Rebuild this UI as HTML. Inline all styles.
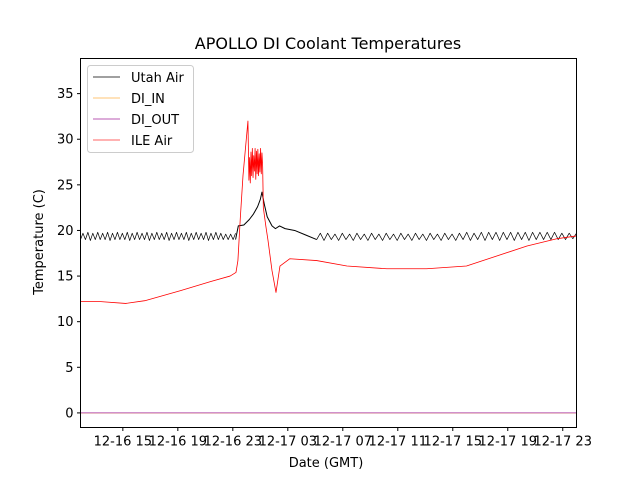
<!DOCTYPE html>
<html><head><meta charset="utf-8"><style>
body{margin:0;background:#fff}
svg text{font-family:"DejaVu Sans","Liberation Sans",sans-serif;fill:#000}
</style></head><body>
<svg id="chart" width="640" height="480" viewBox="0 0 640 480" xmlns="http://www.w3.org/2000/svg">
<rect width="640" height="480" fill="#fff"/>
<text x="328" y="49" font-size="16" text-anchor="middle">APOLLO DI Coolant Temperatures</text>
<text x="0" y="0" font-size="13" text-anchor="middle" transform="translate(43,242) rotate(-90)">Temperature (C)</text>
<text x="326" y="467" font-size="13" text-anchor="middle">Date (GMT)</text>
<g id="plot"></g>
<rect x="80.5" y="58.5" width="496" height="369" fill="none" stroke="#000" stroke-width="1"/>
<g id="legend">
<rect x="87.5" y="65.5" width="106" height="87" rx="3" fill="#fff" fill-opacity="0.8" stroke="#ccc"/>
</g>
</svg>
<script>
const yTicks=[0,5,10,15,20,25,30,35];
const xTickHours=[15,19,23,27,31,35,39,43,47];
const xTickLabels=["12-16 15","12-16 19","12-16 23","12-17 03","12-17 07","12-17 11","12-17 15","12-17 19","12-17 23"];
// ILE Air (hours since 12-16 00, deg C)
const ileT=[11.92,13.4,15.2,16.6,19.2,21.4,22.8,23.23,23.37,23.55,23.74,24.1,24.17,24.22,24.27,24.32,24.37,24.42,24.47,24.52,24.57,24.62,24.67,24.72,24.77,24.82,24.87,24.92,24.97,25.02,25.07,25.12,25.17,25.22,25.4,25.56,25.85,26.14,26.43,27.15,29.1,31.3,34.2,37.1,40.0,42.2,44.4,46.6,48.0];
const ileV=[12.2,12.2,12.0,12.3,13.4,14.4,15.0,15.4,16.7,21.5,26.0,32.0,25.5,28.0,25.2,28.6,26.0,29.0,25.8,28.2,26.5,29.0,25.6,28.7,26.2,28.9,26.0,28.4,26.4,29.0,26.2,28.5,27.0,22.5,20.5,18.9,15.6,13.2,16.1,16.9,16.7,16.1,15.8,15.8,16.1,17.2,18.3,19.1,19.4];
// Utah Air: oscillating segment 1 (evenly spaced from 11.92 to 23.2 h)
const utahOsc1=[19.0,19.7,19.0,19.8,18.9,19.7,19.0,19.8,19.0,19.7,19.0,19.8,18.9,19.7,19.0,19.8,19.0,19.7,19.0,19.8,18.9,19.7,19.0,19.8,19.0,19.7,19.0,19.8,18.9,19.7,19.0,19.8,19.0,19.7,19.0,19.8,18.9,19.7,19.0,19.8,19.0,19.7,19.0,19.8,18.9,19.7,19.0,19.8,19.0,19.7,19.0,19.8,18.9,19.7,19.0,19.8,19.0,19.7,19.0,19.6,19.0,19.6,19.0,19.7];
// Utah Air: warm event
const utahEvT=[23.2,23.4,23.8,24.2,24.5,24.8,25.0,25.12,25.3,25.5,25.85,26.1,26.4,26.8,27.5,28.3,29.1];
const utahEvV=[19.0,20.5,20.6,21.2,21.8,22.6,23.4,24.2,22.8,21.5,20.5,20.2,20.5,20.2,20.0,19.5,19.0];
// Utah Air: oscillating segment 2 (evenly spaced from 29.1 to 48.0 h)
const utahOsc2=[19.0,19.7,18.9,19.7,19.0,19.6,18.9,19.7,19.0,19.6,18.9,19.7,19.0,19.6,18.9,19.7,19.0,19.6,18.9,19.7,19.0,19.6,18.9,19.7,19.0,19.6,18.9,19.7,19.0,19.6,18.9,19.7,19.0,19.6,18.9,19.7,19.0,19.6,18.9,19.7,19.0,19.8,18.9,19.7,19.0,19.8,18.9,19.8,19.0,19.8,18.9,19.8,19.0,19.8,18.9,19.8,19.0,19.8,18.9,19.8,19.0,19.8,19.0,19.8,19.0,19.8,19.0,19.7,19.0,19.7,19.1,19.7];
const diInV=[0,0];
const diOutV=[0,0];
const tRange=[11.92,48.0];

const X0=80.5,X1=576.5,Y0=427.5,Y1=58.5;
const xMin=11.92,xMax=48.0,yMin=-1.6,yMax=38.85;
function xs(h){return X0+(h-xMin)/(xMax-xMin)*(X1-X0);}
function ys(v){return Y0-(v-yMin)/(yMax-yMin)*(Y0-Y1);}
const NS="http://www.w3.org/2000/svg";
const svg=document.getElementById('chart');
const plot=document.getElementById('plot');
function mk(tag,attrs,parent){const e=document.createElementNS(NS,tag);for(const k in attrs)e.setAttribute(k,attrs[k]);(parent||svg).appendChild(e);return e;}
function line(ts,vs,color,name,w){
  const d=ts.map((t,i)=>(i?'L':'M')+xs(t).toFixed(2)+' '+ys(vs[i]).toFixed(2)).join(' ');
  const p=mk('path',{d:d,fill:'none',stroke:color,'stroke-width':w||0.8,'stroke-linejoin':'round'},plot);
  
  
}
function even(a,b,n){const r=[];for(let i=0;i<n;i++)r.push(a+(b-a)*i/(n-1));return r;}
yTicks.forEach(v=>{
  const y=ys(v);
  const t=mk('line',{x1:X0-3.5,x2:X0,y1:y,y2:y,stroke:'#000'});
  
  
  const l=mk('text',{x:X0-7,y:y+4.5,'font-size':13,'text-anchor':'end'});l.textContent=v;
  
  
});
xTickHours.forEach((h,i)=>{
  const x=xs(h);
  const t=mk('line',{x1:x,x2:x,y1:Y0,y2:Y0+3.5,stroke:'#000'});
  
  
  const l=mk('text',{x:x,y:Y0+18,'font-size':13,'text-anchor':'middle'});l.textContent=xTickLabels[i];
  
  
});
line(even(11.92,23.2,utahOsc1.length),utahOsc1,'#000','utah-air-line-a',0.7);
line(utahEvT,utahEvV,'#000','utah-air-line-event',1);
line(even(29.1,48.0,utahOsc2.length),utahOsc2,'#000','utah-air-line-b',0.7);
line(ileT,ileV,'#ff0000','ile-air-line',0.8);
line(tRange,diInV,'#ffa500','di-in-line');
line(tRange,diOutV,'#a0209a','di-out-line');
const leg=document.getElementById('legend');
const legItems=[["Utah Air","#000"],["DI_IN","#ffb347"],["DI_OUT","#a0209a"],["ILE Air","#ff3030"]];
legItems.forEach((it,i)=>{
  const y=77+i*21;
  const g=mk('g',{},leg);
  
  
  mk('line',{x1:93,x2:120,y1:y,y2:y,stroke:it[1],'stroke-width':0.8},g);
  const t=mk('text',{x:131,y:y+5,'font-size':13},g);t.textContent=it[0];
});
</script>
</body></html>
